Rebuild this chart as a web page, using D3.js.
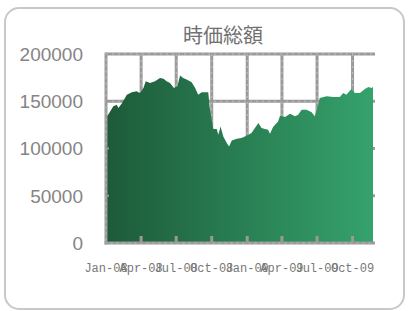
<!DOCTYPE html>
<html>
<head>
<meta charset="utf-8">
<script src="https://cdn.jsdelivr.net/npm/d3@7"></script>
<style>
  body { margin: 0; background: #fff; }
</style>
</head>
<body>
<div id="chart"></div>
<script>
// weekly-ish readings of 時価総額 (market cap)
const dates = [
  "2008-01-03", "2008-01-07", "2008-01-20", "2008-01-29", "2008-02-02", "2008-02-11", "2008-02-24",
  "2008-03-08", "2008-03-20", "2008-03-29", "2008-04-07", "2008-04-13", "2008-04-24",
  "2008-05-07", "2008-05-20", "2008-05-29", "2008-06-06", "2008-06-15", "2008-06-25",
  "2008-07-04", "2008-07-11", "2008-07-19", "2008-07-28", "2008-08-10", "2008-08-19",
  "2008-08-27", "2008-09-05", "2008-09-22", "2008-09-26", "2008-10-01", "2008-10-05",
  "2008-10-14", "2008-10-18", "2008-10-24", "2008-10-31", "2008-11-09", "2008-11-15",
  "2008-11-22", "2008-12-05", "2008-12-17", "2008-12-26", "2009-01-04", "2009-01-12",
  "2009-01-21", "2009-01-30", "2009-02-07", "2009-02-16", "2009-02-24", "2009-03-01",
  "2009-03-09", "2009-03-22", "2009-03-27", "2009-04-09", "2009-04-22", "2009-05-05",
  "2009-05-13", "2009-05-22", "2009-06-04", "2009-06-17", "2009-06-25", "2009-07-04",
  "2009-07-08", "2009-07-26", "2009-08-12", "2009-08-29", "2009-09-07", "2009-09-15",
  "2009-09-28", "2009-10-07", "2009-10-20", "2009-11-02", "2009-11-11", "2009-11-19",
  "2009-11-23"
];
const values = [
  134000, 136000, 144700, 146400, 142900, 147500, 157000,
  159500, 160600, 158800, 164100, 171200, 169400,
  171200, 174700, 173700, 171200, 169400, 164100,
  165900, 177200, 174700, 172900, 170100, 164100,
  157000, 159500, 159500, 142900, 130500, 120600,
  120600, 114600, 123400, 112800, 105800, 102200,
  108500, 110300, 111100, 112800, 114600, 116400,
  121700, 127000, 121700, 120600, 119900, 115600,
  122700, 128700, 134700, 133400, 136900, 134000,
  135800, 141100, 141100, 138300, 134000, 146400,
  153500, 155200, 154600, 154600, 158800, 157000,
  163000, 158800, 158800, 163000, 165200, 164100,
  165200
];
const yTicks = [0, 50000, 100000, 150000, 200000];
const xTicks = ["2008-01-01", "2008-04-01", "2008-07-01", "2008-10-01",
                "2009-01-01", "2009-04-01", "2009-07-01", "2009-10-01"];
const title = "時価総額";

const width = 408, height = 311;
const plotL = 106, plotR = 373, plotT = 54, plotB = 243;
const parse = d3.utcParse("%Y-%m-%d");
const data = dates.map((d, i) => ({date: parse(d), value: values[i]}));

const x = d3.scaleUtc()
  .domain([parse("2008-01-01"), parse("2009-11-23")])
  .range([plotL, plotR]);
const y = d3.scaleLinear().domain([0, 200000]).range([plotB, plotT]);

const svg = d3.select("#chart").append("svg")
  .attr("width", width)
  .attr("height", height);

const grad = svg.append("defs").append("linearGradient")
  .attr("id", "fillGrad")
  .attr("gradientUnits", "userSpaceOnUse")
  .attr("x1", plotL).attr("x2", plotR).attr("y1", 0).attr("y2", 0);
grad.append("stop").attr("offset", "0%").attr("stop-color", "#1d5a39");
grad.append("stop").attr("offset", "100%").attr("stop-color", "#35a26c");

// outer frame
svg.append("rect")
  .attr("x", 5).attr("y", 8)
  .attr("width", 399).attr("height", 301)
  .attr("rx", 14)
  .attr("fill", "none")
  .attr("stroke", "#c8c8c8")
  .attr("stroke-width", 2);

svg.append("text")
  .attr("x", 223).attr("y", 43)
  .attr("text-anchor", "middle")
  .style("font-family", "'Noto Sans CJK JP', sans-serif")
  .style("font-size", "20px")
  .attr("fill", "#707070")
  .text(title);

// gridlines (drawn as thick grey with light dashes)
function gridLine(g, x1, y1, x2, y2) {
  g.append("line").attr("x1", x1).attr("y1", y1).attr("x2", x2).attr("y2", y2)
    .attr("stroke", "#9a9a9a").attr("stroke-width", 3);
  g.append("line").attr("x1", x1).attr("y1", y1).attr("x2", x2).attr("y2", y2)
    .attr("stroke", "#bdbdbd").attr("stroke-width", 1)
    .attr("stroke-dasharray", "2,4");
}
const grid = svg.append("g");
yTicks.filter(v => v > 0).forEach(v => gridLine(grid, plotL, y(v), plotR + 2, y(v)));
xTicks.slice(1).forEach(d => gridLine(grid, x(parse(d)), plotT, x(parse(d)), plotB));

const area = d3.area()
  .x(d => x(d.date))
  .y0(y(0))
  .y1(d => y(d.value));

svg.append("path")
  .datum(data)
  .attr("d", area)
  .attr("fill", "url(#fillGrad)");

// axes
const axes = svg.append("g");
gridLine(axes, plotL, plotT - 1.5, plotL, plotB + 1.5);
gridLine(axes, plotL - 1.5, plotB, plotR + 2, plotB);
xTicks.slice(1).forEach(d => {
  axes.append("line")
    .attr("x1", x(parse(d))).attr("x2", x(parse(d)))
    .attr("y1", plotB).attr("y2", plotB - 7)
    .attr("stroke", "#9a9a9a").attr("stroke-width", 3);
});
yTicks.filter(v => v > 0 && v < 200000).forEach(v => {
  axes.append("line")
    .attr("x1", plotL).attr("x2", plotL + 3)
    .attr("y1", y(v)).attr("y2", y(v))
    .attr("stroke", "#9a9a9a").attr("stroke-width", 2);
});

svg.append("g").selectAll("text")
  .data(yTicks)
  .join("text")
  .attr("x", 83)
  .attr("y", d => y(d))
  .attr("dy", "0.36em")
  .attr("text-anchor", "end")
  .style("font-family", "'Liberation Sans', Arial, sans-serif")
  .style("font-size", "19px")
  .attr("fill", "#858585")
  .text(d => d);

const fmt = d3.utcFormat("%b-%y");
svg.append("g").selectAll("text")
  .data(xTicks)
  .join("text")
  .attr("x", d => x(parse(d)))
  .attr("y", 272)
  .attr("text-anchor", "middle")
  .style("font-family", "'Liberation Mono', monospace")
  .style("font-size", "12px")
  .attr("fill", "#777")
  .text(d => fmt(parse(d)));
</script>
</body>
</html>
